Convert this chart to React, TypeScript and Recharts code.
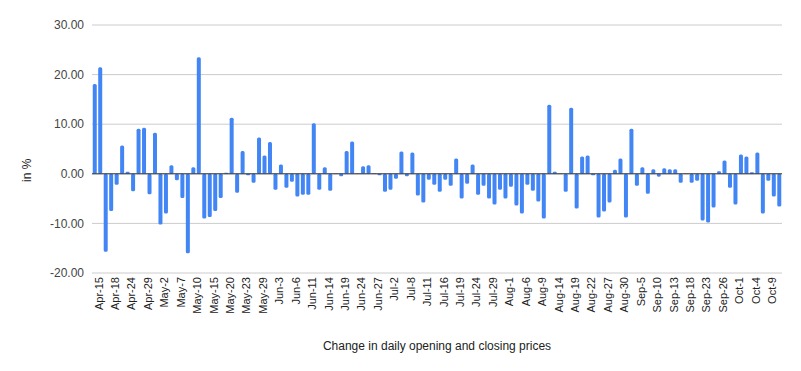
import React from "react";
import {
  BarChart,
  Bar,
  XAxis,
  YAxis,
  CartesianGrid,
  ReferenceLine,
} from "recharts";

// trading days, Apr 15 – Oct 11
const days: string[] = [
  "Apr-15", "Apr-16", "Apr-17", "Apr-18", "Apr-22", "Apr-23", "Apr-24", "Apr-25", "Apr-26", "Apr-29",
  "Apr-30", "May-1", "May-2", "May-3", "May-6", "May-7", "May-8", "May-9", "May-10", "May-13",
  "May-14", "May-15", "May-16", "May-17", "May-20", "May-21", "May-22", "May-23", "May-24", "May-28",
  "May-29", "May-30", "May-31", "Jun-3", "Jun-4", "Jun-5", "Jun-6", "Jun-7", "Jun-10", "Jun-11",
  "Jun-12", "Jun-13", "Jun-14", "Jun-17", "Jun-18", "Jun-19", "Jun-20", "Jun-21", "Jun-24", "Jun-25",
  "Jun-26", "Jun-27", "Jun-28", "Jul-1", "Jul-2", "Jul-3", "Jul-5", "Jul-8", "Jul-9", "Jul-10",
  "Jul-11", "Jul-12", "Jul-15", "Jul-16", "Jul-17", "Jul-18", "Jul-19", "Jul-22", "Jul-23", "Jul-24",
  "Jul-25", "Jul-26", "Jul-29", "Jul-30", "Jul-31", "Aug-1", "Aug-2", "Aug-5", "Aug-6", "Aug-7",
  "Aug-8", "Aug-9", "Aug-12", "Aug-13", "Aug-14", "Aug-15", "Aug-16", "Aug-19", "Aug-20", "Aug-21",
  "Aug-22", "Aug-23", "Aug-26", "Aug-27", "Aug-28", "Aug-29", "Aug-30", "Sep-3", "Sep-4", "Sep-5",
  "Sep-6", "Sep-9", "Sep-10", "Sep-11", "Sep-12", "Sep-13", "Sep-16", "Sep-17", "Sep-18", "Sep-19",
  "Sep-20", "Sep-23", "Sep-24", "Sep-25", "Sep-26", "Sep-27", "Sep-30", "Oct-1", "Oct-2", "Oct-3",
  "Oct-4", "Oct-7", "Oct-8", "Oct-9", "Oct-10", "Oct-11",
];

// change in %
const changes: number[] = [
  18.1, 21.5, -15.7, -7.5, -2.2, 5.7, 0.4, -3.5, 9.1, 9.3,
  -4.1, 8.3, -10.2, -8.0, 1.7, -1.3, -4.9, -16.0, 1.3, 23.5,
  -9.0, -8.7, -7.5, -4.9, 0.2, 11.3, -3.8, 4.6, -0.3, -1.8,
  7.3, 3.7, 6.4, -3.2, 1.9, -2.8, -1.6, -4.6, -4.2, -4.2,
  10.2, -3.2, 1.3, -3.4, 0.05, -0.5, 4.6, 6.5, 0.05, 1.5,
  1.7, 0.1, -0.3, -3.6, -3.2, -1.0, 4.5, -0.5, 4.3, -4.4,
  -5.8, -1.2, -2.2, -3.6, -1.2, -2.4, 3.1, -5.0, -2.0, 1.9,
  -4.2, -2.4, -5.0, -6.2, -3.2, -5.0, -2.6, -6.4, -8.0, -2.2,
  -3.4, -5.6, -9.0, 13.9, 0.4, -0.05, -3.6, 13.3, -7.0, 3.5,
  3.7, -0.3, -8.8, -7.6, -5.8, 0.8, 3.1, -8.8, 9.1, -2.4,
  1.3, -4.0, 0.9, -0.6, 1.1, 0.9, 0.9, -1.8, 0.05, -1.8,
  -1.4, -9.4, -9.8, -6.8, 0.5, 2.7, -2.8, -6.2, 3.9, 3.5,
  0.3, 4.3, -8.0, -1.4, -4.6, -6.6,
];

const yTicks = [-20, -10, 0, 10, 20, 30];

const data = days.map((day, i) => ({ day, change: changes[i] }));

const font = "Arial, 'Liberation Sans', sans-serif";

export default function App() {
  return (
    <div style={{ position: "absolute", left: 0, top: 0 }}>
      <BarChart
        width={801}
        height={371}
        data={data}
        margin={{ top: 25, right: 19, bottom: 0, left: 0 }}
        barCategoryGap={0.75}
      >
        <CartesianGrid vertical={false} stroke="#cccccc" />
        <XAxis
          dataKey="day"
          interval={2}
          height={98}
          tickLine={false}
          axisLine={false}
          angle={-90}
          textAnchor="end"
          tick={{ fontSize: 11, fill: "#222222", fontFamily: font, dy: -4 }}
          label={{
            value: "Change in daily opening and closing prices",
            position: "insideBottom",
            offset: 21,
            style: { fontSize: 12, fill: "#222222", fontFamily: font },
          }}
        />
        <YAxis
          width={92}
          domain={[-20, 30]}
          ticks={yTicks}
          tickFormatter={(v: number) => v.toFixed(2)}
          tickLine={false}
          axisLine={false}
          tick={{ fontSize: 12, fill: "#444444", fontFamily: font }}
          label={() => {
            const cx = 27;
            const cy = 182;
            return (
              <text
                x={cx}
                y={cy}
                transform={`rotate(-90 ${cx} ${cy})`}
                textAnchor="start"
                dominantBaseline="central"
                fontSize={12}
                fill="#222222"
                fontFamily={font}
              >
                in %
              </text>
            );
          }}
        />
        <Bar
          dataKey="change"
          fill="#4285F4"
          radius={1.5}
          isAnimationActive={false}
        />
        <ReferenceLine y={0} stroke="#333333" strokeWidth={1} />
      </BarChart>
    </div>
  );
}
